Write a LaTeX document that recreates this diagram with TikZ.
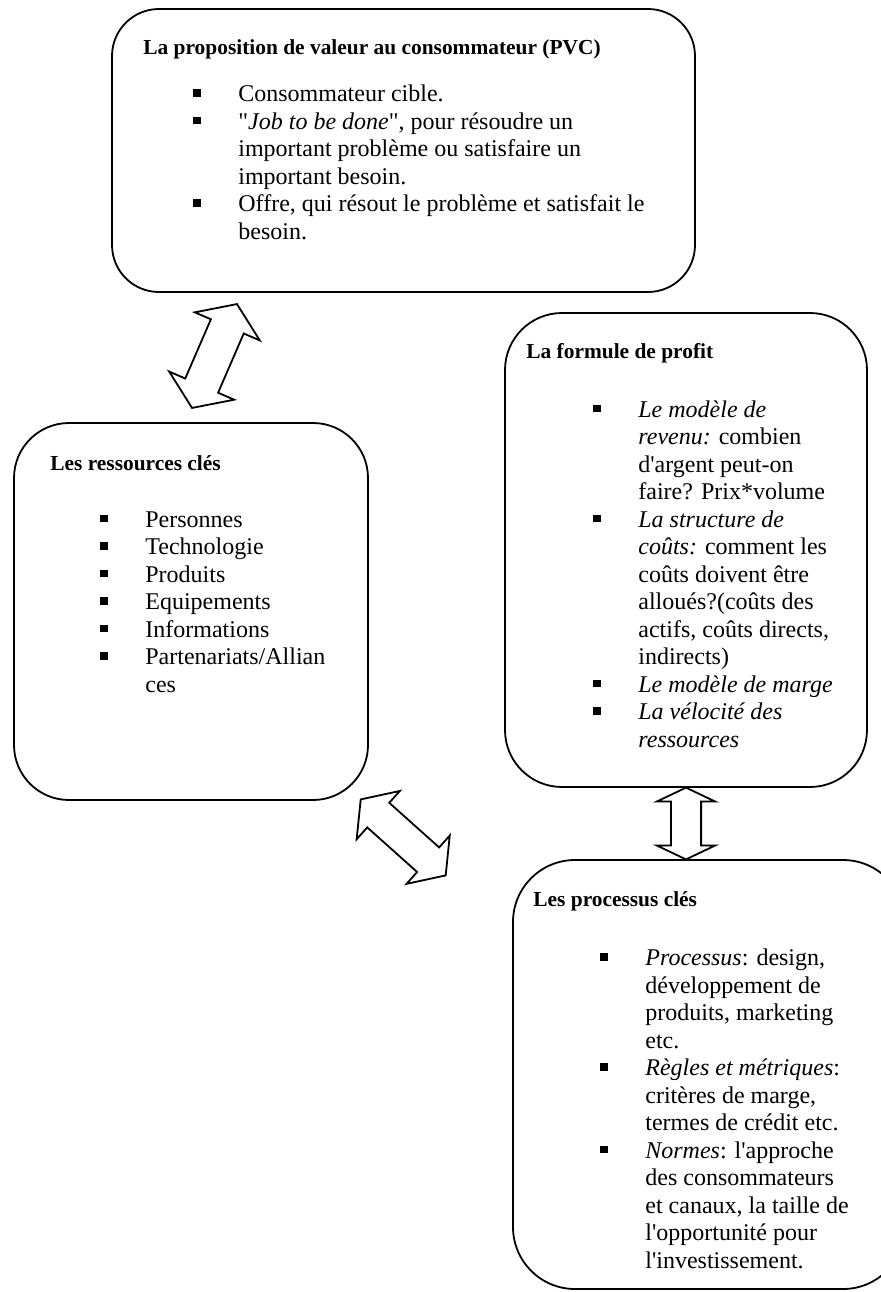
\documentclass[tikz,border=0pt]{standalone}
\usepackage{fontspec}
\usetikzlibrary{shapes.arrows,calc}
\newfontfamily\lib{Liberation Serif}
\newcommand\puce{\makebox[22.5pt][l]{\rule[2.5pt]{3.7pt}{3.7pt}}}
\newcommand\suite{\hspace*{22.5pt}}
\newcommand\liste[1]{\begin{tabular}[t]{@{}l@{}}#1\end{tabular}}
\tikzset{
  boite/.style={draw, line width=0.9pt, rounded corners=#1, inner sep=0pt, outer sep=0pt},
  titre/.style={anchor=base west, inner sep=0pt, font=\lib\fontsize{10.7}{13}\selectfont\bfseries},
  texte/.style={anchor=base west, inner sep=0pt, font=\lib\fontsize{12}{13.75}\selectfont},
  fleche/.style={double arrow, draw, fill=white, line width=0.9pt, inner xsep=0pt, outer sep=0pt}
}
\begin{document}
\begin{tikzpicture}[x=0.5pt,y=-0.5pt]
  \useasboundingbox (0,0) rectangle (880,1292);
  % PVC
  \node[boite=23.5pt, minimum width=291.5pt, minimum height=141.5pt] (pvc) at (403.5,150.5) {};
  \node[titre] (pvctitre) at (143,54) {La proposition de valeur au consommateur (PVC)};
  \node[texte] (pvcliste) at (193,101.5) {\liste{
    \puce Consommateur cible.\\
    \puce "\textit{Job to be done}", pour résoudre un\\
    \suite important problème ou satisfaire un\\
    \suite important besoin.\\
    \puce Offre, qui résout le problème et satisfait le\\
    \suite besoin.}};
  % ressources
  \node[boite=27.5pt, minimum width=177pt, minimum height=188.5pt] (res) at (191,611.5) {};
  \node[titre] (restitre) at (50,470) {Les ressources clés};
  \node[texte] (resliste) at (100,527) {\liste{
    \puce Personnes\\
    \puce Technologie\\
    \puce Produits\\
    \puce Equipements\\
    \puce Informations\\
    \puce Partenariats/Allian\\
    \suite ces}};
  % profit
  \node[boite=28.5pt, minimum width=181pt, minimum height=237pt] (profit) at (686,550) {};
  \node[titre] (profittitre) at (526,358) {La formule de profit};
  \node[texte] (profitliste) at (593,417) {\liste{
    \puce \textit{Le modèle de}\\
    \suite \textit{revenu:} combien\\
    \suite d'argent peut-on\\
    \suite faire? Prix*volume\\
    \puce \textit{La structure de}\\
    \suite \textit{coûts:} comment les\\
    \suite coûts doivent être\\
    \suite alloués?(coûts des\\
    \suite actifs, coûts directs,\\
    \suite indirects)\\
    \puce \textit{Le modèle de marge}\\
    \puce \textit{La vélocité des}\\
    \suite \textit{ressources}}};
  % processus
  \node[boite=31pt, minimum width=196pt, minimum height=214.5pt] (proc) at (709,1074.5) {};
  \node[titre] (proctitre) at (533,906) {Les processus clés};
  \node[texte] (procliste) at (600,965.5) {\liste{
    \puce \textit{Processus}: design,\\
    \suite développement de\\
    \suite produits, marketing\\
    \suite etc.\\
    \puce \textit{Règles et métriques}:\\
    \suite critères de marge,\\
    \suite termes de crédit etc.\\
    \puce \textit{Normes}: l'approche\\
    \suite des consommateurs\\
    \suite et canaux, la taille de\\
    \suite l'opportunité pour\\
    \suite l'investissement.}};
  % fleches
  \node[fleche, rotate=66.6, inner ysep=8.5pt, minimum height=56.6pt, minimum width=34.5pt,
    double arrow head extend=8.75pt, double arrow tip angle=111] (pvcres) at (214.5,356) {};
  \node[fleche, rotate=-41.8, inner ysep=7.8pt, minimum height=57pt, minimum width=31.5pt,
    double arrow head extend=7.95pt, double arrow tip angle=108] (resproc) at (403.2,837.4) {};
  \node[fleche, rotate=90, inner ysep=7.1pt, minimum height=35.9pt, minimum width=28.2pt,
    double arrow head extend=7pt, double arrow tip angle=129]
    (profproc) at ($(profit.south)!0.5!(profit.south |- proc.north)$) {};
\end{tikzpicture}
\end{document}
